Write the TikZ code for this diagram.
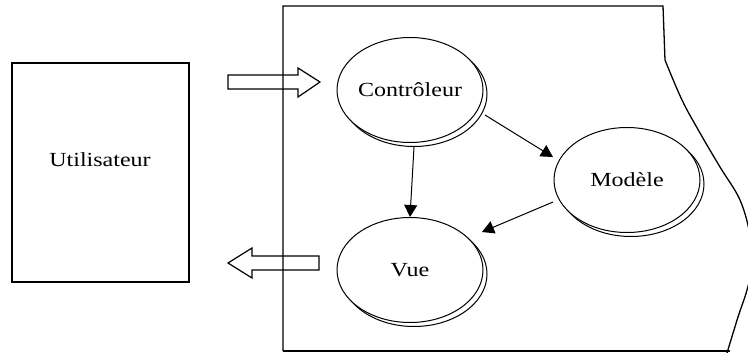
\documentclass[tikz,border=0pt]{standalone}
\usepackage{fontspec}
\setmainfont{Liberation Serif}
\usetikzlibrary{shapes.geometric,arrows.meta,calc}
\tikzset{
  lbl/.style={font=\fontsize{20}{24}\selectfont},
  bubble/.style={ellipse, draw, line width=1pt, fill=white, minimum width=146pt, minimum height=105pt, inner sep=0pt},
  shadowring/.style={ellipse, draw, line width=1pt, minimum width=146pt, minimum height=105pt, inner sep=0pt},
  conn/.style={line width=1pt, -{Triangle[length=12pt,width=13pt]}},
  frame/.style={line width=1.3pt},
  blockarrow/.style={line width=1.2pt, line join=miter}
}
\newcommand{\wide}[1]{\scalebox{1.2}[1]{#1}}
\begin{document}
\begin{tikzpicture}[x=1pt,y=-1pt]
\useasboundingbox (0,0) rectangle (748,353);
\begin{scope}
\clip (0,0) rectangle (748,353);
% system frame
\draw[frame] (283,351) -- (283,6) -- (663,6) -- (665,60)
  plot[smooth, tension=0.6] coordinates {(665,60) (682,100) (700,133) (720,167) (740,200) (750,235) (752,265) (747,290) (738,317) (727,353)};
\draw[frame] (283,351) -- (730,351);
\end{scope}
% user box
\node[draw, line width=1.3pt, minimum width=177pt, minimum height=219pt, inner sep=0pt, anchor=center] (user) at (100.5,172.5) {};
\node[lbl] (usertxt) at (100,160) {\wide{Utilisateur}};
% block arrows
\draw[blockarrow] (228,75) -- (298,75) -- (298,68) -- (320,82) -- (298,97) -- (298,89) -- (228,89) -- cycle;
\draw[blockarrow] (319,256) -- (252,256) -- (252,248) -- (228,263) -- (252,278) -- (252,270) -- (319,270) -- cycle;
% shadows
\node[shadowring] (ctrlsh) at (414,94) {};
\node[shadowring] (modsh) at (631,184) {};
\node[shadowring] (vuesh) at (414,274) {};
% ellipses
\node[bubble] (ctrl) at (410,90) {};
\node[bubble] (mod) at (627,180) {};
\node[bubble] (vue) at (410,270) {};
\node[lbl] (ctrltxt) at (410,90) {\wide{Contrôleur}};
\node[lbl] (modtxt) at (627,180) {\wide{Modèle}};
\node[lbl] (vuetxt) at (410,270) {\wide{Vue}};
% connectors
\draw[conn] (ctrlsh.south) -- (vue.north);
\draw[conn] ($(ctrl)+(75,25)$) -- ($(mod)+(-74,-23)$);
\draw[conn] ($(mod)+(-74,22)$) -- ($(vue)+(72,-38)$);
\end{tikzpicture}
\end{document}
